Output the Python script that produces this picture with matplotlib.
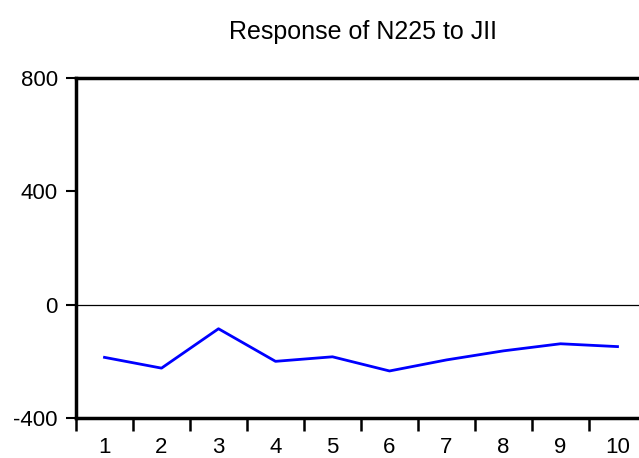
import matplotlib.pyplot as plt
import numpy as np

plt.rcParams['font.family'] = ['Liberation Sans', 'DejaVu Sans']

# 脉冲响应数据
periods = [1, 2, 3, 4, 5, 6, 7, 8, 9, 10]
response = [-186, -224, -85, -200, -184, -234, -195, -163, -138, -148]
y_ticks = [-400, 0, 400, 800]

fig = plt.figure(figsize=(6.39, 4.58), dpi=100)
ax = fig.add_axes([76 / 639, 1 - 418 / 458, 570 / 639, 340 / 458])

ax.axhline(0, color='black', lw=0.9)
ax.plot(periods, response, color='#0000ff', lw=2)

ax.set_xlim(0.5, 10.5)
ax.set_ylim(-400, 800)
ax.set_yticks(y_ticks)
ax.set_yticklabels([str(v) for v in y_ticks], fontsize=16)

# 刻度在区间边界，标签在中间
ax.set_xticks(np.arange(0.5, 10.5, 1.0))
ax.set_xticklabels([])
ax.set_xticks(periods, minor=True)
ax.set_xticklabels([str(p) for p in periods], minor=True, fontsize=16)
ax.tick_params(axis='x', which='major', direction='out', length=9, width=1.8)
ax.tick_params(axis='x', which='minor', length=0, pad=14)
ax.tick_params(axis='y', direction='out', length=7, width=1.5, pad=6)

for s in ['left', 'bottom', 'top']:
    ax.spines[s].set_linewidth(2.5)
ax.spines['right'].set_visible(False)

fig.text(363 / 639, 1 - 39 / 458, 'Response of N225 to JII', ha='center', va='baseline', fontsize=18)

plt.savefig('out.png', dpi=100)
